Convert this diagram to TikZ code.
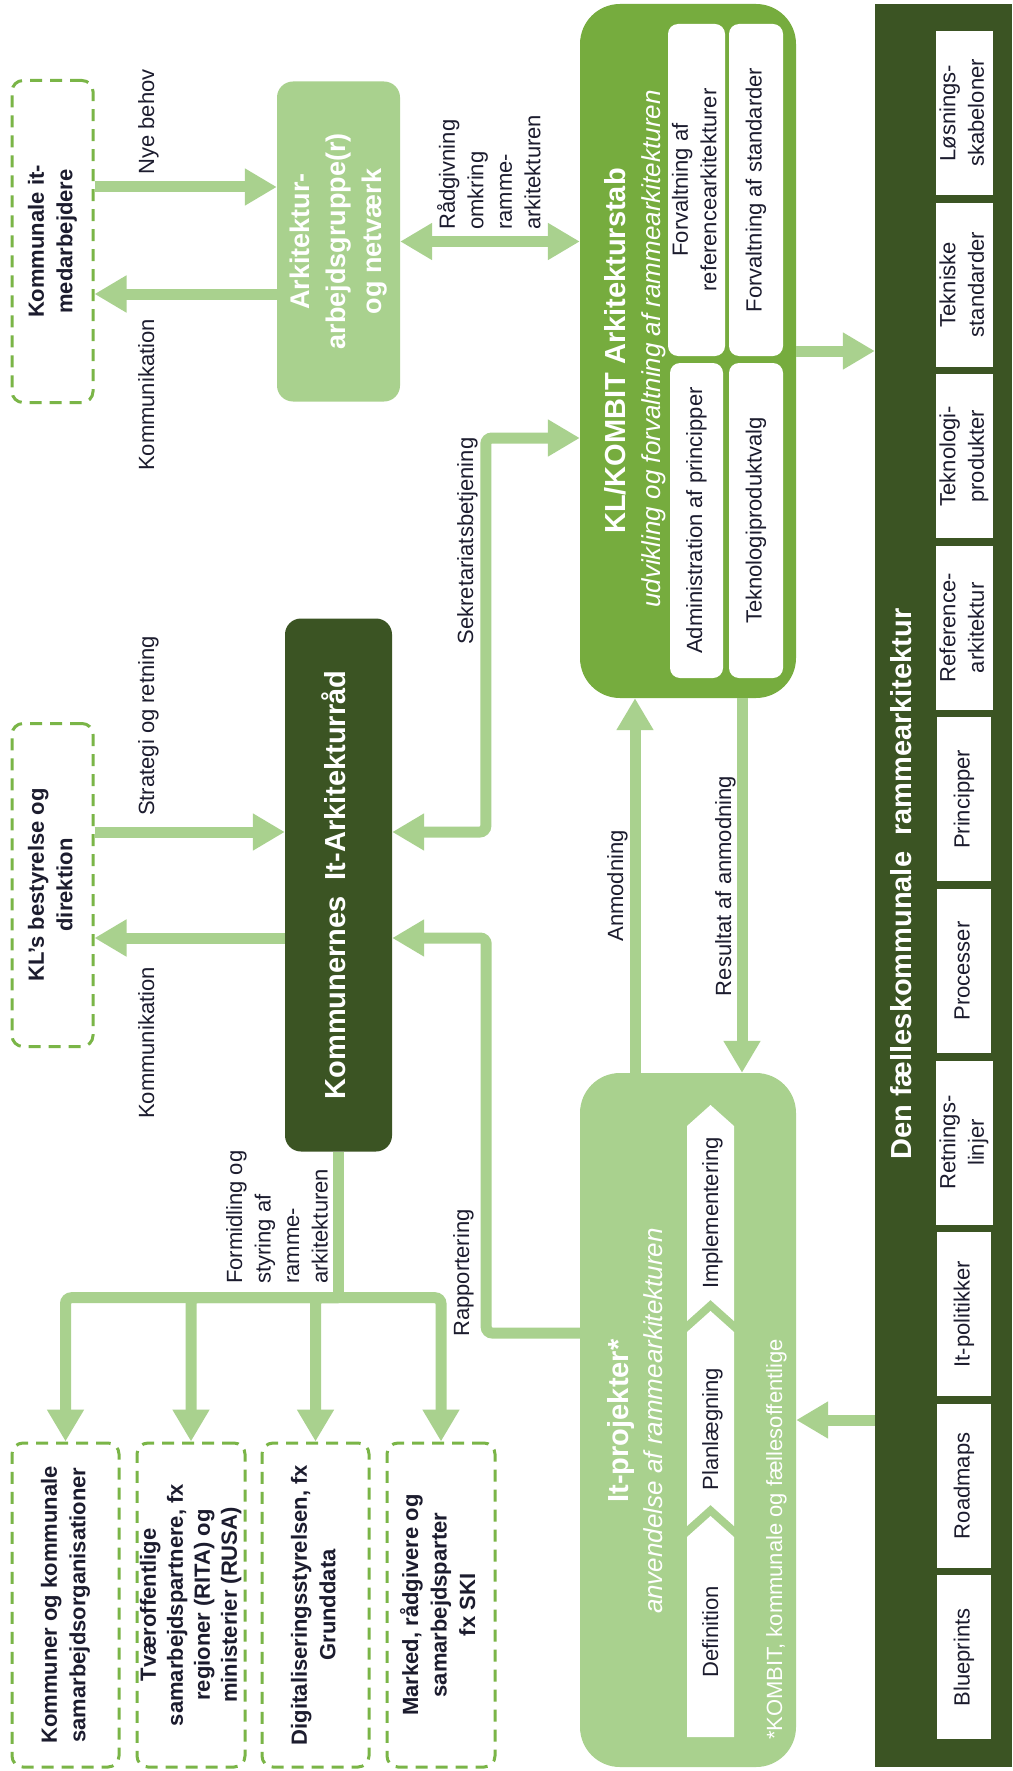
\documentclass[tikz,border=0pt]{standalone}
\usepackage{fontspec}
\setmainfont{Liberation Sans}
\usepackage{graphicx}
\usetikzlibrary{arrows.meta}
\definecolor{lightg}{HTML}{A9D18E}
\definecolor{midg}{HTML}{76AC3E}
\definecolor{darkg}{HTML}{3B5423}
\definecolor{dashg}{HTML}{7AB547}
\definecolor{txt}{HTML}{1C1C2E}
\newcommand\fs[2]{\fontsize{#1}{#2}\selectfont}
\newcommand\rtext[1]{\rotatebox{90}{\begin{tabular}{@{}c@{}}#1\end{tabular}}}
\begin{document}
\begin{tikzpicture}[x=1pt,y=-1pt,
  dbox/.style={draw=dashg, line width=3pt, dash pattern=on 12pt off 8pt, rounded corners=11pt, inner sep=0pt, font=\bfseries\fs{22}{28.5}, text=txt},
  solidbox/.style={inner sep=0pt},
  wbox/.style={fill=white, rounded corners=10pt, inner sep=0pt, font=\fs{22}{28.5}, text=txt},
  bandbox/.style={fill=white, inner sep=0pt, minimum width=54pt, minimum height=164pt, font=\fs{22}{28.5}, text=txt},
  lbl/.style={rotate=90, inner sep=0pt, font=\fs{22}{28.5}, text=txt},
  wlbl/.style={rotate=90, inner sep=0pt, text=white},
  conn/.style={draw=lightg, line width=11pt, rounded corners=6pt},
  arr/.style={conn, -{Triangle[width=35pt,length=32pt]}},
  darr/.style={conn, {Triangle[width=35pt,length=32pt]}-{Triangle[width=35pt,length=32pt]}}
]
\useasboundingbox (0,0) rectangle (1012,1771);
\fill[white] (0,0) rectangle (1012,1771);

% left column boxes
\node[dbox, minimum width=81pt, minimum height=322pt] (b1) at (52.5,241.5) {\rtext{Kommunale it-\\medarbejdere}};
\node[dbox, minimum width=81pt, minimum height=323pt] (b3) at (52.5,885) {\rtext{KL’s bestyrelse og\\direktion}};

% working group
\node[solidbox, fill=lightg, rounded corners=16pt, minimum width=123pt, minimum height=320pt, text=white, font=\bfseries\fs{27}{36}] (b2) at (338.5,241.5) {\rtext{Arkitektur-\\arbejdsgruppe(r)\\og netværk}};

% council
\node[solidbox, fill=darkg, rounded corners=16pt, minimum width=107pt, minimum height=533pt, text=white, font=\bfseries\fs{29}{34}] (council) at (338.5,885) {\rtext{Kommunernes\ \ It-Arkitekturråd}};

% KL/KOMBIT
\node[solidbox, fill=midg, rounded corners=40pt, minimum width=216pt, minimum height=694pt] (kl) at (688,351) {};
\node[wlbl, anchor=base, font=\bfseries\fs{29}{34}] (kltitle) at (625,351) {KL/KOMBIT Arkitekturstab};
\node[wlbl, anchor=base, font=\itshape\fs{26}{30}] (klsub) at (660,349) {udvikling og forvaltning af rammearkitekturen};
\node[wbox, minimum width=53pt, minimum height=332pt] (ka) at (696.5,190) {\rtext{Forvaltning af\\referencearkitekturer}};
\node[wbox, minimum width=54pt, minimum height=332pt] (kb) at (756,190) {\rtext{Forvaltning af standarder}};
\node[wbox, minimum width=53pt, minimum height=315pt] (kc) at (696.5,520.5) {\rtext{Administration af principper}};
\node[wbox, minimum width=54pt, minimum height=315pt] (kd) at (756,520.5) {\rtext{Teknologiproduktvalg}};

% band
\node[solidbox, fill=darkg, minimum width=137pt, minimum height=1763pt] (band) at (943.5,885.5) {};
\node[wlbl, anchor=base, font=\bfseries\fs{29}{34}] (bandtitle) at (911,884) {Den fælleskommunale\ \ rammearkitektur};
\node[bandbox] (s0) at (964,113) {\rtext{Løsnings-\\skabeloner}};
\node[bandbox] (s1) at (964,284.6) {\rtext{Tekniske\\standarder}};
\node[bandbox] (s2) at (964,456.2) {\rtext{Teknologi-\\produkter}};
\node[bandbox] (s3) at (964,627.8) {\rtext{Reference-\\arkitektur}};
\node[bandbox] (s4) at (964,799.4) {\rtext{Principper}};
\node[bandbox] (s5) at (964,971) {\rtext{Processer}};
\node[bandbox] (s6) at (964,1142.6) {\rtext{Retnings-\\linjer}};
\node[bandbox] (s7) at (964,1314.2) {\rtext{It-politikker}};
\node[bandbox] (s8) at (964,1485.8) {\rtext{Roadmaps}};
\node[bandbox] (s9) at (964,1657.4) {\rtext{Blueprints}};

% It-projekter
\node[solidbox, fill=lightg, rounded corners=40pt, minimum width=216pt, minimum height=694pt] (itp) at (688,1420) {};
\fill[white] (710.5,1105) -- (734,1126) -- (734,1321) -- (710.5,1300) -- (687,1321) -- (687,1126) -- cycle;
\fill[white] (710.5,1311) -- (734,1332) -- (734,1526) -- (710.5,1505) -- (687,1526) -- (687,1332) -- cycle;
\fill[white] (710.5,1516) -- (734,1537) -- (734,1737) -- (687,1737) -- (687,1537) -- cycle;
\node[wlbl, anchor=base, font=\bfseries\fs{29}{34}] (itptitle) at (628,1421) {It-projekter*};
\node[wlbl, anchor=base, font=\itshape\fs{26}{30}] (itpsub) at (662,1421) {anvendelse af rammearkitekturen};
\node[lbl, anchor=base] (ph3) at (718,1213) {Implementering};
\node[lbl, anchor=base] (ph2) at (718,1429) {Planlægning};
\node[lbl, anchor=base] (ph1) at (718,1632) {Definition};
\node[wlbl, anchor=base west, font=\fs{22}{28.5}] (foot) at (782,1740) {*KOMBIT, kommunale og fællesoffentlige};

% bottom boxes
\node[dbox, minimum width=107pt, minimum height=324pt] (bA) at (65.5,1605) {\rtext{Kommuner og kommunale\\samarbejdsorganisationer}};
\node[dbox, minimum width=108pt, minimum height=324pt, font=\bfseries\fs{22}{27}] (bB) at (191,1605) {\rtext{Tværoffentlige\\samarbejdspartnere, fx\\regioner (RITA) og\\ministerier (RUSA)}};
\node[dbox, minimum width=107pt, minimum height=324pt] (bC) at (315.5,1605) {\rtext{Digitaliseringsstyrelsen, fx\\Grunddata}};
\node[dbox, minimum width=108pt, minimum height=324pt] (bD) at (441,1605) {\rtext{Marked, rådgivere og\\samarbejdsparter\\fx SKI}};

% connectors
\draw[arr] ([yshift=54.5pt]b1.east) -- ([yshift=54.5pt]b2.west);
\draw[arr] ([yshift=-52.5pt]b2.west) -- ([yshift=-52.5pt]b1.east);
\draw[darr] (b2.east) -- (b2.east -| kl.west);
\draw[arr] ([yshift=53pt]b3.east) -- ([yshift=53pt]council.west);
\draw[arr] ([yshift=-53pt]council.west) -- ([yshift=-53pt]b3.east);
\draw[darr] ([yshift=53pt]council.east) -| ([xshift=-94pt,yshift=-87pt]kl.west) -- ([yshift=-87pt]kl.west);
\draw[arr] ([yshift=87pt]itp.west) -| ([xshift=94pt,yshift=-53pt]council.east) -- ([yshift=-53pt]council.east);
\draw[arr] ([xshift=-53pt]itp.north) -- ([xshift=-53pt]kl.south);
\draw[arr] ([xshift=54pt]kl.south) -- ([xshift=54pt]itp.north);
\draw[arr] (kl.east) -- (kl.east -| band.west);
\draw[arr] (band.west |- itp.east) -- (itp.east);
\coordinate (jn) at ([yshift=-146pt]council.south);
\draw[conn] (council.south) -- (jn);
\draw[arr] (jn) -| (bA.north);
\draw[arr] (jn) -| (bB.north);
\draw[arr] (jn) -| (bC.north);
\draw[arr] (jn) -| (bD.north);

% connector labels
\node[lbl, anchor=base] (lnye) at (154,122) {Nye behov};
\node[lbl, anchor=base] (lkom1) at (154,395) {Kommunikation};
\node[lbl, anchor=base] (lstrat) at (154,726) {Strategi og retning};
\node[lbl, anchor=base] (lkom2) at (154,1043) {Kommunikation};
\node[lbl, anchor=base] (lsek) at (473,541) {Sekretariatsbetjening};
\node[lbl, anchor=base] (lrap) at (469,1273) {Rapportering};
\node[lbl, anchor=base] (lanm) at (623,886) {Anmodning};
\node[lbl, anchor=base] (lres) at (731,886) {Resultat af anmodning};
\node[lbl, anchor=north west, align=left] (lraad) at (437,230) {Rådgivning\\omkring\\ramme-\\arkitekturen};
\node[lbl, anchor=north west, align=left] (lform) at (226,1284) {Formidling og\\styring af\\ramme-\\arkitekturen};
\end{tikzpicture}
\end{document}
